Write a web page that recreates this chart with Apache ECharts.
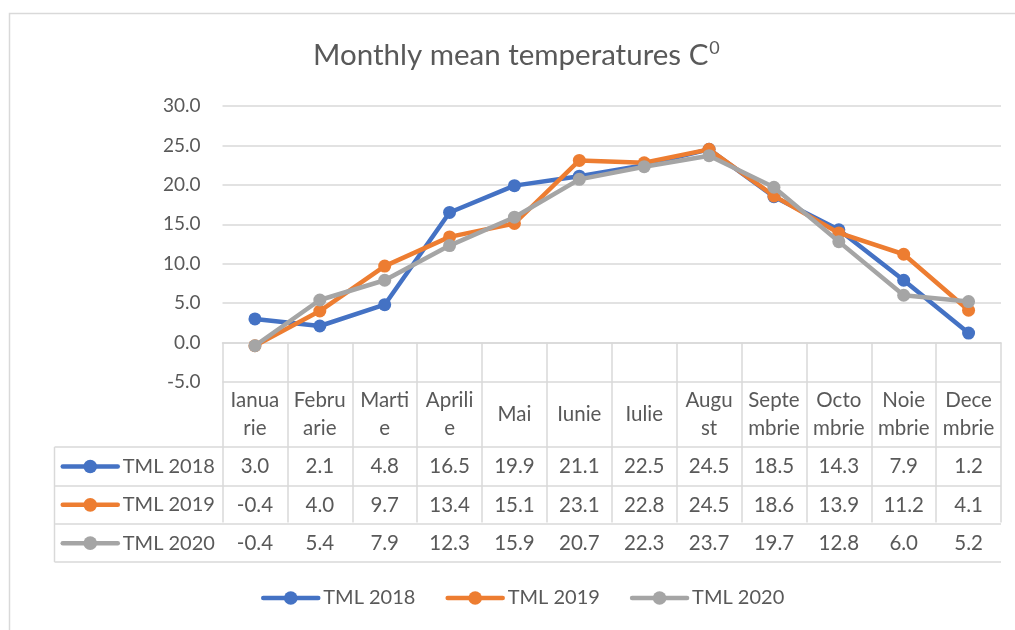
<!DOCTYPE html>
<html><head><meta charset="utf-8">
<script src="https://cdn.jsdelivr.net/npm/echarts@6/dist/echarts.min.js"></script>
<style>html,body{margin:0;padding:0;background:#fff}#c{width:1015px;height:630px}</style>
</head><body><div id="c"></div>
<script>
const categories = ["Ianua\nrie","Febru\narie","Marti\ne","Aprili\ne","Mai","Iunie","Iulie","Augu\nst","Septe\nmbrie","Octo\nmbrie","Noie\nmbrie","Dece\nmbrie"];
const seriesNames = ["TML 2018","TML 2019","TML 2020"];
const tml2018 = [3.0,2.1,4.8,16.5,19.9,21.1,22.5,24.5,18.5,14.3,7.9,1.2];
const tml2019 = [-0.4,4.0,9.7,13.4,15.1,23.1,22.8,24.5,18.6,13.9,11.2,4.1];
const tml2020 = [-0.4,5.4,7.9,12.3,15.9,20.7,22.3,23.7,19.7,12.8,6.0,5.2];
const yTicks = {min:-5,max:30,interval:5};

const colors = ['#4472C4','#ED7D31','#A5A5A5'];
const txt = '#595959', gridC = '#D9D9D9';
const FONT = 'Lato';
const G = {left:222.5, right:1001, top:106, bottom:382};
const rows = [382,447,486,524,562];
const tableLeft = 54.5;
const allData = [tml2018,tml2019,tml2020];
const TFS = 20.5;

const chart = echarts.init(document.getElementById('c'));

const xAxes = [{
  type:'category', data:categories, gridIndex:0, position:'bottom', boundaryGap:true,
  axisLine:{show:true,lineStyle:{color:gridC,width:1.5}},
  axisTick:{show:true,length:rows[4]-rows[0],lineStyle:{color:gridC,width:1.5},alignWithLabel:false},
  axisLabel:{interval:0,margin:(rows[0]+rows[1])/2-rows[0],verticalAlign:'middle',color:txt,fontFamily:FONT,fontSize:TFS,lineHeight:27.5,align:'center'}
}];
allData.forEach((d,k)=>{
  xAxes.push({
    type:'category', data:categories, gridIndex:0, position:'bottom',
    offset:(rows[k+1]+rows[k+2])/2 - rows[0],
    axisLine:{show:false}, axisTick:{show:false}, splitLine:{show:false},
    axisLabel:{interval:0,margin:0,verticalAlign:'middle',color:txt,fontFamily:FONT,fontSize:TFS,
      formatter:(v,i)=>d[i].toFixed(1)}
  });
});

const graphics = [
  {type:'rect',shape:{x:9.5,y:13.5,width:1030,height:640},style:{fill:null,stroke:gridC,lineWidth:1.5},silent:true}
];
for (let r=1;r<rows.length;r++){
  graphics.push({type:'line',shape:{x1:tableLeft,y1:rows[r],x2:G.right,y2:rows[r]},style:{stroke:gridC,lineWidth:1.5},silent:true});
}
graphics.push({type:'line',shape:{x1:tableLeft,y1:rows[1],x2:tableLeft,y2:rows[4]},style:{stroke:gridC,lineWidth:1.5},silent:true});

const rowPitch = (rows[4]-rows[1])/3;
const legText = {color:txt,fontFamily:FONT,fontSize:20,lineHeight:20};
const legLine = {width:4.5,cap:'round'};

chart.setOption({
  animation:false,
  color:colors,
  title:{text:'Monthly mean temperatures C{sup|0}',left:313,top:39,padding:0,
    textStyle:{color:txt,fontFamily:FONT,fontSize:29.5,fontWeight:'normal',
      rich:{sup:{fontSize:18,color:txt,fontFamily:FONT,verticalAlign:'top',padding:[0,0,15,1]}}}},
  grid:{left:G.left,right:1015-G.right,top:G.top,bottom:630-G.bottom,containLabel:false},
  legend:[
    {data:seriesNames,orient:'vertical',left:60.5,top:(rows[1]+rows[2])/2-10,padding:0,itemWidth:55,itemHeight:17,
      itemGap:rowPitch-20,textStyle:legText,lineStyle:legLine,selectedMode:false},
    {data:seriesNames,orient:'horizontal',left:261,top:588,padding:0,itemWidth:55,itemHeight:17,itemGap:30,
      textStyle:legText,lineStyle:legLine,selectedMode:false}
  ],
  xAxis:xAxes,
  yAxis:{type:'value',min:yTicks.min,max:yTicks.max,interval:yTicks.interval,
    axisLine:{show:false},axisTick:{show:false},
    splitLine:{lineStyle:{color:gridC,width:1.5}},
    axisLabel:{margin:22,color:txt,fontFamily:FONT,fontSize:19,formatter:v=>v.toFixed(1)}},
  series:allData.map((d,k)=>({
    name:seriesNames[k],type:'line',data:d,xAxisIndex:0,symbol:'circle',symbolSize:13,
    lineStyle:{width:4.5,color:colors[k]},itemStyle:{color:colors[k]},z:2+k
  })),
  graphic:graphics
});
</script></body></html>
